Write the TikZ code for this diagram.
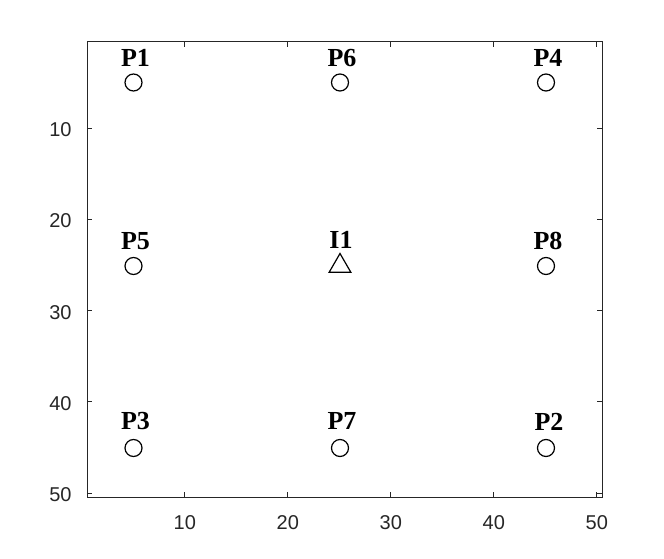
\documentclass[tikz,border=0pt]{standalone}
\usepackage{fontspec}
\setmainfont{Liberation Serif}
\newfontfamily\axisfont{Liberation Sans}
\usetikzlibrary{shapes.geometric}
\definecolor{axgray}{HTML}{262626}
\begin{document}
\begin{tikzpicture}[x=1pt,y=-1pt,
  axisline/.style={draw=axgray, line width=1pt},
  tickline/.style={draw=axgray, line width=1pt},
  ticklbl/.style={font=\axisfont\fontsize{20}{24}\selectfont, text=axgray, inner sep=0pt},
  ptlabel/.style={font=\bfseries\fontsize{26}{30}\selectfont, anchor=base, inner sep=0pt},
  pmark/.style={circle, draw=black, fill=white, line width=1.2pt, minimum size=17pt, inner sep=0pt},
  tmark/.style={regular polygon, regular polygon sides=3, draw=black, fill=white, line width=1.2pt, minimum size=25pt, inner sep=0pt}
]
\useasboundingbox (0,0) rectangle (664,559);
\fill[white] (0,0) rectangle (664,559);
% axes box
\draw[axisline] (87,41.6) rectangle (602,497.6);
% x ticks
\foreach \xp/\lab in {184.85/10, 287.85/20, 390.85/30, 493.85/40, 596.85/50} {
  \draw[tickline] (\xp,497.6) -- ++(0,-5.2);
  \draw[tickline] (\xp,41.6) -- ++(0,5.2);
  \node[ticklbl, anchor=base] (xt\lab) at (\xp,529.3) {\lab};
}
% y ticks
\foreach \yp/\lab in {128.24/10, 219.44/20, 310.64/30, 401.84/40, 493.04/50} {
  \draw[tickline] (87,\yp) -- ++(5.2,0);
  \draw[tickline] (602,\yp) -- ++(-5.2,0);
  \node[ticklbl, anchor=base east] (yt\lab) at (71.7,\yp+8.5) {\lab};
}
% markers
\node[pmark] (p1) at (133.5,82.5) {};
\node[pmark] (p6) at (340,82.5) {};
\node[pmark] (p4) at (546,82.5) {};
\node[pmark] (p5) at (133.5,266) {};
\node[tmark] (i1) at (340,266) {};
\node[pmark] (p8) at (546,266) {};
\node[pmark] (p3) at (133.5,448) {};
\node[pmark] (p7) at (340,448) {};
\node[pmark] (p2) at (546,448) {};
% labels
\node[ptlabel] (lp1) at (135.5,67) {P1};
\node[ptlabel] (lp6) at (342,67) {P6};
\node[ptlabel] (lp4) at (548,67) {P4};
\node[ptlabel] (lp5) at (135.5,249) {P5};
\node[ptlabel] (li1) at (341,248) {I1};
\node[ptlabel] (lp8) at (548,249) {P8};
\node[ptlabel] (lp3) at (135.5,429) {P3};
\node[ptlabel] (lp7) at (342,429) {P7};
\node[ptlabel] (lp2) at (549,430.5) {P2};
\end{tikzpicture}
\end{document}
